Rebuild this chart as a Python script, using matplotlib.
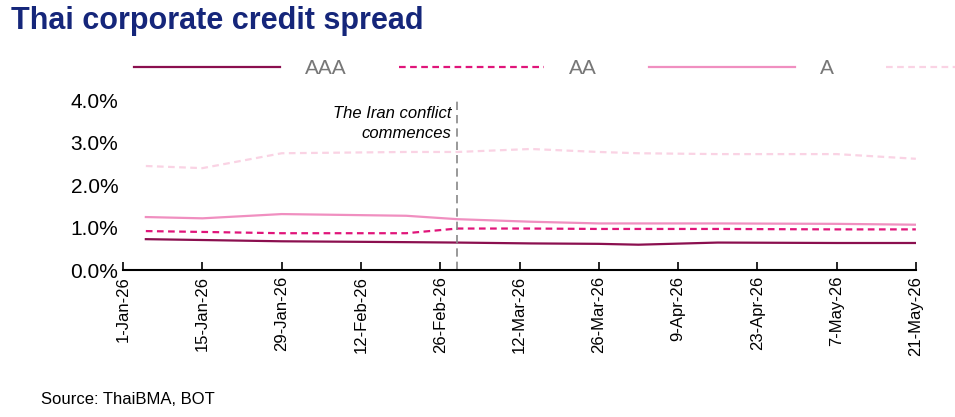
import matplotlib
matplotlib.use("Agg")
import matplotlib.pyplot as plt
import matplotlib.dates as mdates
import matplotlib.ticker as mtick
import pandas as pd

plt.rcParams['font.family'] = ['Liberation Sans', 'DejaVu Sans']

dates = pd.to_datetime(["2026-01-05", "2026-01-15", "2026-01-29", "2026-02-20", "2026-03-01",
                        "2026-03-14", "2026-03-26", "2026-04-02", "2026-04-16", "2026-05-07", "2026-05-21"])
aaa = [0.73, 0.71, 0.68, 0.66, 0.65, 0.63, 0.62, 0.60, 0.65, 0.64, 0.64]
aa = [0.92, 0.90, 0.87, 0.87, 0.98, 0.98, 0.97, 0.97, 0.97, 0.96, 0.96]
a = [1.25, 1.22, 1.32, 1.28, 1.20, 1.14, 1.10, 1.10, 1.10, 1.09, 1.07]
bbb = [2.45, 2.40, 2.75, 2.78, 2.78, 2.85, 2.78, 2.75, 2.73, 2.73, 2.62]
tick_labels = ["1-Jan-26", "15-Jan-26", "29-Jan-26", "12-Feb-26", "26-Feb-26", "12-Mar-26",
               "26-Mar-26", "9-Apr-26", "23-Apr-26", "7-May-26", "21-May-26"]
event_date = pd.Timestamp("2026-03-01")

fig = plt.figure(figsize=(9.55, 4.17), dpi=100)
ax = fig.add_axes([0.129, 0.352, 0.83, 0.408])

ax.plot(dates, aaa, color="#8b0f4f", lw=1.6, label="AAA")
ax.plot(dates, aa, color="#e0157a", lw=1.6, ls=(0, (3, 2)), label="AA")
ax.plot(dates, a, color="#f08fc0", lw=1.6, label="A")
ax.plot(dates, bbb, color="#fad3e4", lw=1.6, ls=(0, (3, 2)), label="BBB+")
ax.axvline(event_date, color="#888888", lw=1.2, ls=(0, (5, 3)))
ax.text(pd.Timestamp("2026-02-28"), 3.45, "The Iran conflict\ncommences", ha="right", va="center",
        fontsize=12, style="italic", linespacing=1.4)

ticks = pd.to_datetime([pd.Timestamp("2026-01-01") + pd.Timedelta(days=14 * i) for i in range(11)])
ax.set_xticks(ticks)
ax.set_xticklabels(tick_labels, rotation=90, fontsize=12)
ax.set_xlim(ticks[0], ticks[-1])
ax.set_ylim(0, 4)
ax.set_yticks([0, 1, 2, 3, 4])
ax.yaxis.set_major_formatter(mtick.FuncFormatter(lambda v, p: f"{v:.1f}%"))
ax.tick_params(axis='y', length=0, labelsize=15)
ax.tick_params(axis='x', length=6, width=1.2, direction='in', pad=4)
for s in ["top", "right", "left"]:
    ax.spines[s].set_visible(False)
ax.spines["bottom"].set_linewidth(1.5)

leg = ax.legend(loc="lower left", bbox_to_anchor=(-0.01, 1.02), ncol=4, frameon=False,
                fontsize=15, handlelength=7, columnspacing=2.5, handletextpad=1.2)
for t in leg.get_texts():
    t.set_color("#777777")

fig.text(0.012, 0.93, "Thai corporate credit spread", fontsize=22, fontweight="bold",
         color="#15267a")
fig.text(0.043, 0.03, "Source: ThaiBMA, BOT", fontsize=12)

fig.savefig("out.png", dpi=100)
